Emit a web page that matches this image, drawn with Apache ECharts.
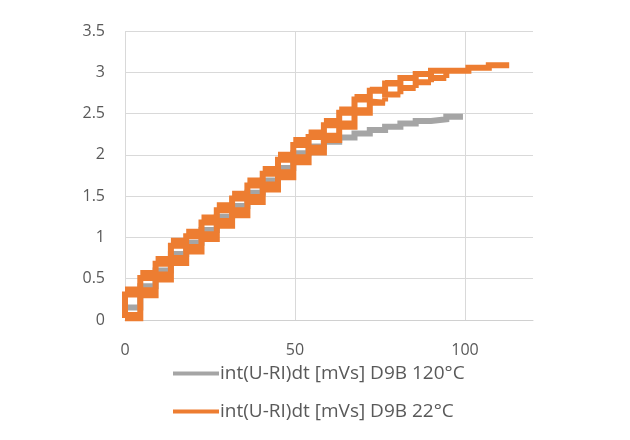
<!DOCTYPE html>
<html>
<head>
<meta charset="utf-8">
<script src="https://cdn.jsdelivr.net/npm/echarts@6/dist/echarts.min.js"></script>
<style>
html,body{margin:0;padding:0;background:#fff;}
#chart{width:630px;height:440px;}
</style>
</head>
<body>
<div id="chart"></div>
<script>
// series names
var seriesNames = ['int(U-RI)dt [mVs] D9B 120°C', 'int(U-RI)dt [mVs] D9B 22°C'];

// column edges of the stepped loops (x values)
var stepEdges = [0, 4.5, 9, 13.5, 18, 22.5, 27, 31.5, 36, 40.5, 45, 49.5, 54, 58.5, 63, 67.5, 72, 76.5, 81, 85.5, 90, 94.5];

// 22°C: levels of each column (bottom, bottom inner, top inner, top)
var orangeBottom   = [0.02, 0.30, 0.49, 0.69, 0.83, 0.98, 1.14, 1.27, 1.43, 1.58, 1.73, 1.91, 2.03, 2.18, 2.34, 2.51, 2.63, 2.73, 2.81, 2.88, 2.93];
var orangeBottomIn = [0.06, 0.36, 0.55, 0.75, 0.885, 1.04, 1.20, 1.33, 1.49, 1.64, 1.79, 1.97, 2.085, 2.23, 2.38, 2.54, 2.645, 2.735, 2.81, 2.88, 2.93];
var orangeTopIn    = [0.31, 0.51, 0.68, 0.90, 1.015, 1.18, 1.33, 1.47, 1.63, 1.77, 1.94, 2.12, 2.215, 2.36, 2.51, 2.67, 2.775, 2.865, 2.93, 2.98, 3.02];
var orangeTop      = [0.37, 0.57, 0.74, 0.96, 1.07, 1.24, 1.39, 1.53, 1.69, 1.83, 2.00, 2.18, 2.27, 2.41, 2.55, 2.70, 2.79, 2.87, 2.93, 2.98, 3.02];
// 22°C: end of the curve
var orangeTailX = [94.5, 101, 101, 107, 107, 113];
var orangeTailY = [3.02, 3.02, 3.055, 3.055, 3.085, 3.085];

// 120°C: one level per column (last column ends at 99.4)
var greyEdges  = stepEdges.concat([99.4]);
var greyLevels = [0.15, 0.41, 0.60, 0.80, 0.935, 1.09, 1.25, 1.38, 1.54, 1.69, 1.84, 2.02, 2.10, 2.16, 2.21, 2.26, 2.30, 2.34, 2.38, 2.41, 2.43, 2.46];

var yMax = 3.5;

// build 22°C loops
var orangeData = [];
for (var k = 0; k < orangeBottom.length; k++) {
	var a = stepEdges[k], b = stepEdges[k + 1];
	orangeData.push([a, orangeBottom[k]], [b, orangeBottom[k]], [b, orangeBottomIn[k]], [a, orangeBottomIn[k]],
		[a, orangeTopIn[k]], [b, orangeTopIn[k]], [b, orangeTop[k]], [a, orangeTop[k]],
		[b, orangeTop[k]], [b, orangeBottomIn[k]]);
}
for (var t = 0; t < orangeTailX.length; t++) {
	orangeData.push([orangeTailX[t], orangeTailY[t]]);
}

// build 120°C staircase
var greyData = [];
for (var g = 0; g < greyLevels.length; g++) {
	greyData.push([greyEdges[g], greyLevels[g]], [greyEdges[g + 1], greyLevels[g]]);
}

var chart = echarts.init(document.getElementById('chart'));
var txt = '#595959';
var font = '"Open Sans", sans-serif';
chart.setOption({
	animation: false,
	color: ['#A5A5A5', '#ED7D31'],
	grid: {left: 125, right: 97, top: 31, bottom: 120},
	legend: {
		orient: 'vertical',
		left: 168,
		top: 359,
		itemGap: 19,
		itemWidth: 46,
		itemHeight: 4,
		icon: 'rect',
		textStyle: {color: txt, fontSize: 19, lineHeight: 19, fontFamily: font, padding: [0, 0, 0, -4]},
		data: seriesNames
	},
	xAxis: {
		type: 'value',
		min: 0,
		max: 120,
		interval: 50,
		axisLine: {show: true, lineStyle: {color: '#d0d0d0', width: 1}},
		axisTick: {show: false},
		axisLabel: {color: txt, fontSize: 16, fontFamily: font, margin: 22, showMaxLabel: false},
		splitLine: {show: true, lineStyle: {color: ['#d9d9d9', '#d9d9d9', '#d9d9d9', 'rgba(0,0,0,0)'], width: 1}}
	},
	yAxis: {
		type: 'value',
		min: 0,
		max: yMax,
		interval: 0.5,
		axisLine: {show: false},
		axisTick: {show: false},
		axisLabel: {color: txt, fontSize: 16, fontFamily: font, margin: 20},
		splitLine: {lineStyle: {color: '#d9d9d9', width: 1}}
	},
	series: [{
		name: seriesNames[0],
		type: 'line',
		data: greyData,
		showSymbol: false,
		lineStyle: {width: 6, color: '#A5A5A5', join: 'miter'},
		z: 2
	}, {
		name: seriesNames[1],
		type: 'line',
		data: orangeData,
		showSymbol: false,
		lineStyle: {width: 6, color: '#ED7D31', join: 'miter'},
		z: 3
	}]
});
</script>
</body>
</html>
